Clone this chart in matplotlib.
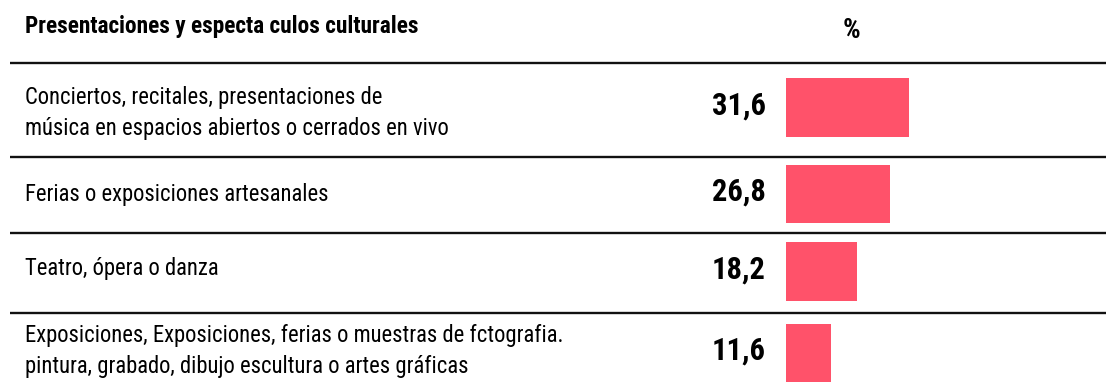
import matplotlib.pyplot as plt

# Datos
titulo = 'Presentaciones y especta culos culturales'
categorias = [
    'Conciertos, recitales, presentaciones de\nmúsica en espacios abiertos o cerrados en vivo',
    'Ferias o exposiciones artesanales',
    'Teatro, ópera o danza',
    'Exposiciones, Exposiciones, ferias o muestras de fctografia.\npintura, grabado, dibujo escultura o artes gráficas',
]
porcentajes = [31.6, 26.8, 18.2, 11.6]
etiquetas = ['31,6', '26,8', '18,2', '11,6']

# Tipografía condensada
fuente = ['Liberation Sans Narrow', 'Roboto Condensed', 'DejaVu Sans Condensed', 'DejaVu Sans']
plt.rcParams['font.family'] = fuente

W, H = 1106, 385
fig = plt.figure(figsize=(W / 100, H / 100), dpi=100)

# Eje de fondo en pixeles para líneas y textos
ax = fig.add_axes([0, 0, 1, 1])
ax.set_xlim(0, W)
ax.set_ylim(H, 0)
ax.axis('off')

# Eje de las barras (0 en x=786 px, ~3.88 px por punto porcentual)
x0, escala, ancho = 786, 3.88, 300
bx = fig.add_axes([x0 / W, 0, ancho / W, 1])
bx.set_xlim(0, ancho / escala)
bx.set_ylim(H, 0)
bx.axis('off')

centros_barras = [107.5, 194, 271.5, 353]
bx.barh(centros_barras, porcentajes, height=58.5, left=0, color='#ff526a')

# Separadores
for y in [62.7, 157, 232.7, 313.3]:
    ax.plot([10, W], [y, y], color='#111111', lw=1.7, solid_capstyle='butt')

# Encabezado
ax.text(25, 27, titulo, fontsize=16.8, fontweight='bold', ha='left', va='center')
ax.text(851, 30, '%', fontsize=20, fontweight='bold', ha='center', va='center')

# Categorías y valores
centros_texto = [113, 195, 268, 351]
for yc, cat, yb, et in zip(centros_texto, categorias, centros_barras, etiquetas):
    ax.text(25, yc, cat, fontsize=16.3, ha='left', va='center', linespacing=1.42)
    ax.text(766, yb - 2, et, fontsize=22, fontweight='bold', ha='right', va='center')

fig.savefig('out.png', dpi=100)
